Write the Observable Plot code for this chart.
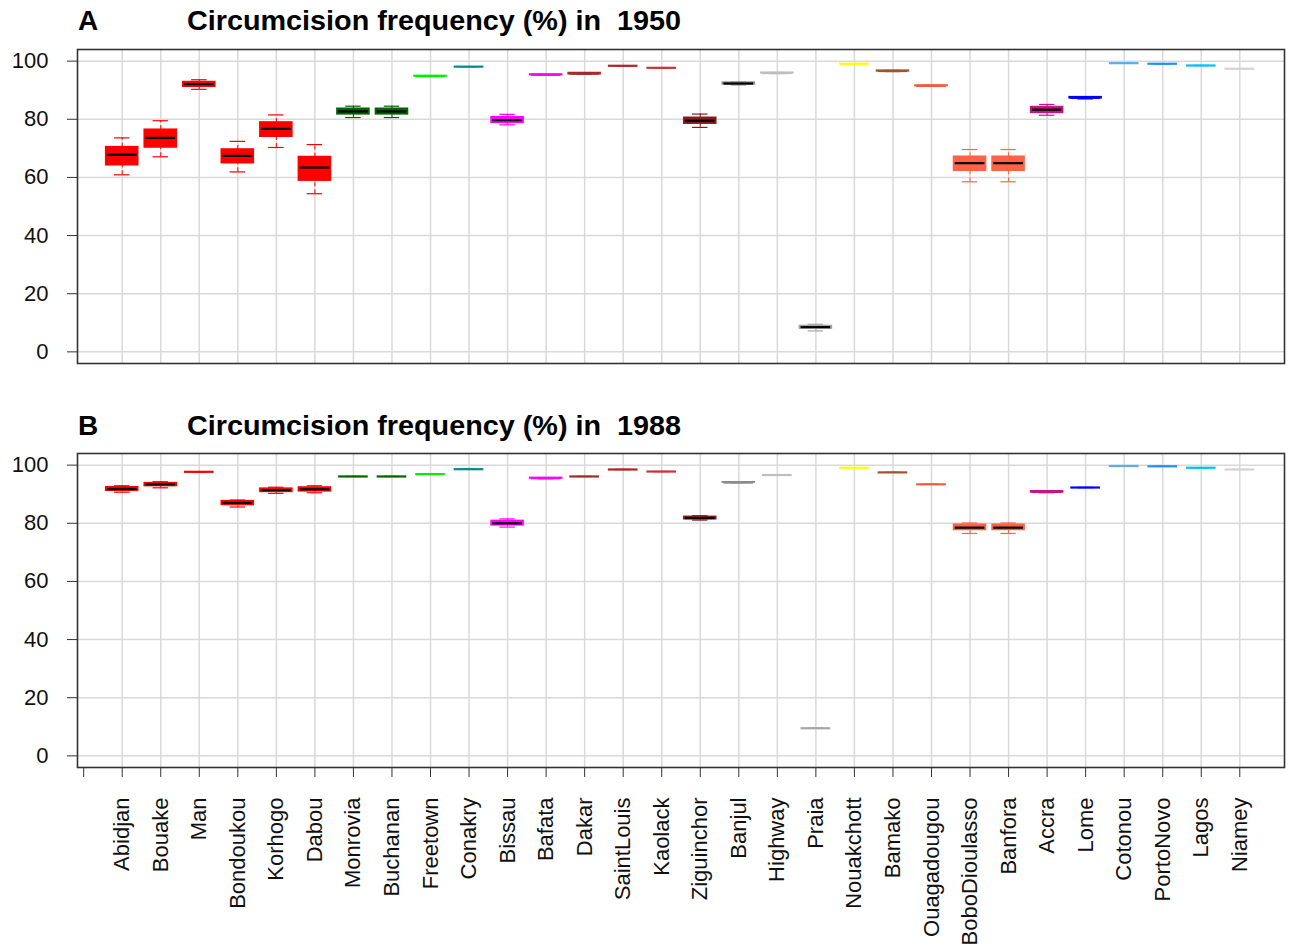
<!DOCTYPE html>
<html>
<head>
<meta charset="utf-8">
<script src="https://cdn.jsdelivr.net/npm/d3@7"></script>
<script src="https://cdn.jsdelivr.net/npm/@observablehq/plot@0.6"></script>
<style>
  html, body { margin: 0; padding: 0; background: #fff; }
  #wrap { position: relative; width: 1290px; height: 947px; overflow: hidden; font-family: "Liberation Sans", Arial, sans-serif; }
  .title { position: absolute; font-family: "Liberation Sans Narrow", "Liberation Sans", Arial, sans-serif; font-weight: bold; font-size: 28px; line-height: 1; white-space: pre; color: #000; transform-origin: left center; }
  .panel { position: absolute; left: 0; }
</style>
</head>
<body>
<div id="wrap">
  <div class="title" id="tA1" style="left:78px; top:7px;">A</div>
  <div class="title" id="tA2" style="left:187px; top:7px;">Circumcision frequency (%) in  1950</div>
  <div class="title" id="tB1" style="left:78px; top:412px;">B</div>
  <div class="title" id="tB2" style="left:187px; top:412px;">Circumcision frequency (%) in  1988</div>
  <div class="panel" id="pA" style="top:0px;"></div>
  <div class="panel" id="pB" style="top:400px;"></div>
</div>
<script>
const cities = ["Abidjan","Bouake","Man","Bondoukou","Korhogo","Dabou","Monrovia","Buchanan","Freetown","Conakry","Bissau","Bafata","Dakar","SaintLouis","Kaolack","Ziguinchor","Banjul","Highway","Praia","Nouakchott","Bamako","Ouagadougou","BoboDioulasso","Banfora","Accra","Lome","Cotonou","PortoNovo","Lagos","Niamey"];

const colors = ["#FF0000","#FF0000","#FF0000","#FF0000","#FF0000","#FF0000","#006400","#006400","#00EE00","#008B8B","#FF00FF","#FF00FF","#A52A2A","#B22222","#CD3333","#8B1A1A","#8C8C8C","#BEBEBE","#A6A6A6","#FFFF00","#A0522D","#EE5C42","#FF6347","#FF6347","#C71585","#0000FF","#5CACEE","#1E90FF","#00BFFF","#D3D3D3"];

// 1950 boxplot statistics (lower whisker, Q1, median, Q3, upper whisker)
const lo1950  = [60.9,67.1,90.3,61.9,70.3,54.4,80.6,80.6,94.7,98.1,78.1,95.2,95.5,98.4,97.7,77.2,91.8,95.7,7.2,99.1,96.4,91.3,58.5,58.5,81.4,87.0,99.3,99.1,98.5,97.4];
const q1_1950 = [64.2,70.3,91.2,64.9,74.0,58.9,81.7,81.7,94.7,98.1,78.8,95.2,95.5,98.4,97.7,78.5,92.0,95.8,8.0,99.1,96.5,91.4,62.3,62.3,82.2,87.2,99.3,99.1,98.5,97.4];
const med1950 = [67.8,73.6,92.1,67.4,76.7,63.4,82.7,82.7,94.8,98.1,79.7,95.3,95.7,98.4,97.7,79.5,92.3,95.9,8.5,99.1,96.6,91.5,64.9,64.9,83.3,87.4,99.3,99.1,98.5,97.4];
const q3_1950 = [70.4,76.4,92.8,69.6,78.9,67.0,83.6,83.6,94.9,98.1,80.7,95.4,95.9,98.4,97.7,80.5,92.6,96.0,8.9,99.1,96.7,91.6,67.1,67.1,84.2,87.6,99.3,99.1,98.5,97.4];
const hi1950  = [73.6,79.5,93.6,72.4,81.5,71.3,84.5,84.5,94.9,98.1,81.7,95.4,95.9,98.4,97.7,81.8,92.8,96.1,9.5,99.1,96.8,91.7,69.6,69.6,85.1,87.8,99.3,99.1,98.5,97.4];

// 1988 boxplot statistics
const lo1988  = [90.7,92.2,97.7,85.6,90.3,90.5,96.1,96.1,96.9,98.6,78.7,95.3,96.1,98.5,97.8,81.1,93.9,96.6,9.5,99.1,97.5,93.4,76.5,76.5,90.5,92.3,99.7,99.6,99.1,98.5];
const q1_1988 = [91.2,92.8,97.7,86.3,90.8,91.0,96.1,96.1,96.9,98.6,79.3,95.4,96.1,98.5,97.8,81.4,94.0,96.6,9.5,99.1,97.5,93.4,77.7,77.7,90.6,92.3,99.7,99.6,99.1,98.5];
const med1988 = [91.8,93.4,97.7,87.0,91.4,91.7,96.1,96.1,96.9,98.6,80.0,95.5,96.1,98.5,97.8,81.8,94.0,96.6,9.5,99.1,97.5,93.4,78.5,78.5,90.8,92.3,99.7,99.6,99.1,98.5];
const q3_1988 = [92.4,93.8,97.7,87.6,91.9,92.3,96.1,96.1,96.9,98.6,80.8,95.6,96.1,98.5,97.8,82.2,94.1,96.6,9.5,99.1,97.5,93.4,79.5,79.5,91.0,92.3,99.7,99.6,99.1,98.5];
const hi1988  = [92.9,94.3,97.7,88.0,92.4,92.9,96.1,96.1,96.9,98.6,81.5,95.7,96.1,98.5,97.8,82.6,94.1,96.6,9.5,99.1,97.5,93.4,80.1,80.1,91.1,92.3,99.7,99.6,99.1,98.5];

const yTicks = [0, 20, 40, 60, 80, 100];

function rows(lo, q1, med, q3, hi) {
  return cities.map((c, k) => ({
    pos: k + 1, city: c, color: colors[k],
    lo: lo[k], q1: q1[k], med: med[k], q3: q3[k], hi: hi[k],
    medColor: (q3[k] - q1[k]) >= 0.5 ? "#000" : colors[k]
  }));
}

function panel(data, {height, marginTop, marginBottom, xAxis}) {
  const boxHalf = 0.415, capHalf = 0.2;
  const marks = [
    Plot.ruleY(yTicks, {stroke: "#d9d9d9", strokeWidth: 1.5}),
    Plot.ruleX(d3.range(1, cities.length + 1), {stroke: "#d9d9d9", strokeWidth: 1.5}),
    Plot.ruleX(data, {x: "pos", y1: "q3", y2: "hi", stroke: "color", strokeDasharray: "4,3", strokeWidth: 1}),
    Plot.ruleX(data, {x: "pos", y1: "lo", y2: "q1", stroke: "color", strokeDasharray: "4,3", strokeWidth: 1}),
    Plot.ruleY(data, {y: "hi", x1: d => d.pos - capHalf, x2: d => d.pos + capHalf, stroke: "color", strokeWidth: 1.2}),
    Plot.ruleY(data, {y: "lo", x1: d => d.pos - capHalf, x2: d => d.pos + capHalf, stroke: "color", strokeWidth: 1.2}),
    Plot.rect(data, {x1: d => d.pos - boxHalf, x2: d => d.pos + boxHalf, y1: "q1", y2: "q3", fill: "color", stroke: "color", strokeWidth: 1.6}),
    Plot.ruleY(data, {y: "med", x1: d => d.pos - boxHalf + 0.03, x2: d => d.pos + boxHalf - 0.03, stroke: "medColor", strokeWidth: 2.2}),
    Plot.frame({stroke: "#333", strokeWidth: 1.6}),
    Plot.axisY({ticks: yTicks, tickSize: 10, tickPadding: 19, fontSize: 22, stroke: "#333", label: null})
  ];
  if (xAxis) {
    marks.push(Plot.axisX({
      ticks: d3.range(0, cities.length + 1),
      tickFormat: i => cities[i - 1] ?? "",
      tickSize: 10, tickPadding: 20, tickRotate: -90, fontSize: 22, stroke: "#333", label: null
    }));
  } else {
    marks.push(Plot.axisX({ticks: [], label: null}));
  }
  return Plot.plot({
    width: 1290, height, marginLeft: 77, marginRight: 6, marginTop, marginBottom,
    style: {fontFamily: "'Liberation Sans', Arial, sans-serif", fontSize: "22px", color: "#111", background: "transparent"},
    x: {type: "linear", domain: [-0.16, 31.16]},
    y: {domain: [-4, 104]},
    color: {type: "identity"},
    marks
  });
}

document.getElementById("pA").appendChild(panel(rows(lo1950, q1_1950, med1950, q3_1950, hi1950), {height: 400, marginTop: 49, marginBottom: 37}));
document.getElementById("pB").appendChild(panel(rows(lo1988, q1_1988, med1988, q3_1988, hi1988), {height: 547, marginTop: 53, marginBottom: 180, xAxis: true}));

// fit title widths to the reference's condensed title lettering
for (const [id, w] of [["tA2", 494], ["tB2", 494]]) {
  const el = document.getElementById(id);
  const cur = el.getBoundingClientRect().width;
  if (cur > 0) el.style.transform = `scaleX(${w / cur})`;
}
</script>
</body>
</html>
